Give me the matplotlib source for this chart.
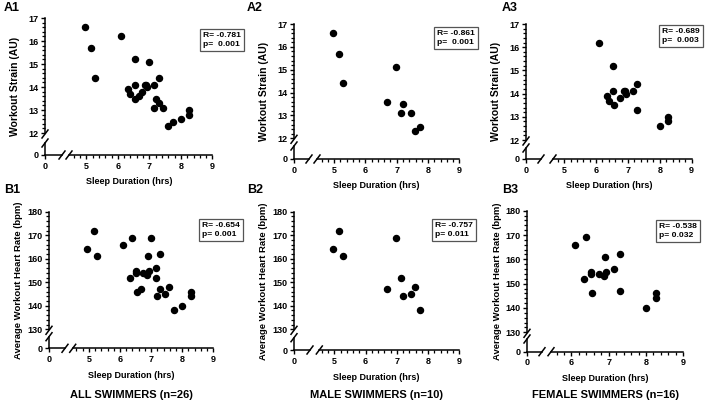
# Sleep duration vs workout strain / heart rate, swimmers
import matplotlib
matplotlib.use("Agg")
import matplotlib.pyplot as plt
from matplotlib.lines import Line2D
from matplotlib.ticker import MultipleLocator

plt.rcParams["font.family"] = ["Liberation Sans", "DejaVu Sans"]
plt.rcParams["font.weight"] = "bold"

# ---- data ----
male_sleep = [4.95, 5.15, 5.27, 6.68, 6.99, 7.15, 7.2, 7.44, 7.58, 7.74]
male_strain = [16.6, 15.7, 14.4, 13.6, 15.1, 13.1, 13.5, 13.1, 12.3, 12.5]
male_hr = [164, 172, 161, 147, 169, 152, 144, 145, 148, 138]

female_sleep = [6.1, 6.33, 6.4, 6.53, 6.53, 6.55, 6.75, 6.87, 6.9, 6.93,
                7.15, 7.3, 7.3, 8.0, 8.27, 8.27]
female_strain = [16.2, 13.9, 13.7, 15.2, 14.1, 13.5, 13.8, 14.1, 14.1, 14.0,
                 14.1, 14.4, 13.3, 12.6, 13.0, 12.8]
female_hr = [166, 152, 169, 155, 154, 146, 154, 153, 161, 155,
             156, 162, 147, 140, 146, 144]

all_sleep = male_sleep + female_sleep
all_strain = male_strain + female_strain
all_hr = male_hr + female_hr

stats_r = ["-0.781", "-0.861", "-0.689", "-0.654", "-0.757", "-0.538"]
stats_p = [" 0.001", " 0.001", " 0.003", "0.001", "0.011", "0.032"]
panel_names = ["A1", "A2", "A3", "B1", "B2", "B3"]
group_names = ["ALL SWIMMERS (n=26)", "MALE SWIMMERS (n=10)", "FEMALE SWIMMERS (n=16)"]

# ---- layout in pixels ----
W, H = 709, 404
fig = plt.figure(figsize=(W / 100, H / 100), dpi=100)


def rect(x0, y0, x1, y1):
    return [x0 / W, 1 - y1 / H, (x1 - x0) / W, (y1 - y0) / H]


def slash(x, y):
    fig.add_artist(Line2D([(x - 3) / W, (x + 3) / W], [1 - (y + 4) / H, 1 - (y - 4) / H],
                          color="black", lw=1.1))


# sx: y spine, ay: x axis line, xs: start of main x segment, x9: px of x=9
# yt/yb: px of top/bottom y value, cx/cy: end of corner segments
layout = [
    dict(sx=45, ay=155, xs=69, x9=212.5, xlo=4.45, yt=18, yb=133, cx=62, cy=143),
    dict(sx=294, ay=159, xs=317, x9=459.3, xlo=4.45, yt=24, yb=138.3, cx=309, cy=146),
    dict(sx=526, ay=159, xs=553, x9=691.7, xlo=4.65, yt=24, yb=140, cx=541, cy=148),
    dict(sx=49, ay=348.3, xs=72.7, x9=213.3, xlo=4.48, yt=211.7, yb=329.3, cx=65, cy=336.7),
    dict(sx=294, ay=350, xs=319.3, x9=459.3, xlo=4.52, yt=211.7, yb=329.3, cx=310, cy=337.7),
    dict(sx=527, ay=351.7, xs=551, x9=683.3, xlo=5.45, yt=210.7, yb=332.3, cx=542, cy=339),
]
box_pos = [(203, 40), (437, 38), (662, 36), (202, 230), (435, 230), (659, 231)]
label_pos = [(4, 8), (247, 8), (502, 8), (4, 190), (247, 190), (502, 190)]

panels = [
    (all_sleep, all_strain), (male_sleep, male_strain), (female_sleep, female_strain),
    (all_sleep, all_hr), (male_sleep, male_hr), (female_sleep, female_hr),
]

for i, (xs_data, ys_data) in enumerate(panels):
    L = layout[i]
    is_hr = i >= 3
    ylo, yhi = (130, 180) if is_hr else (12, 17)

    # main data region
    ax = fig.add_axes(rect(L["xs"], L["yt"], L["x9"], L["yb"]))
    ax.scatter(xs_data, ys_data, s=19, color="black", clip_on=False, zorder=3)
    ax.set_xlim(L["xlo"], 9)
    ax.set_ylim(ylo, yhi)
    ax.patch.set_visible(False)
    ax.spines["top"].set_visible(False)
    ax.spines["right"].set_visible(False)
    ax.spines["left"].set_position(("outward", (L["xs"] - L["sx"]) * 0.72))
    ax.spines["bottom"].set_position(("outward", (L["ay"] - L["yb"]) * 0.72))
    for s in ["left", "bottom"]:
        ax.spines[s].set_linewidth(1.1)
    ax.xaxis.set_major_locator(MultipleLocator(1))
    ax.xaxis.set_minor_locator(MultipleLocator(0.2))
    ax.yaxis.set_major_locator(MultipleLocator(10 if is_hr else 1))
    ax.yaxis.set_minor_locator(MultipleLocator(2 if is_hr else 0.2))
    ax.tick_params(which="major", length=3.2, width=1.0, labelsize=6.5, pad=1.5)
    ax.tick_params(which="minor", length=2, width=0.9)

    # corner segments with the zero ticks
    cax = fig.add_axes(rect(L["sx"], L["cy"], L["cx"], L["ay"]))
    cax.set_xlim(0, 1)
    cax.set_ylim(0, 1)
    cax.patch.set_visible(False)
    cax.spines["top"].set_visible(False)
    cax.spines["right"].set_visible(False)
    for s in ["left", "bottom"]:
        cax.spines[s].set_linewidth(1.1)
    cax.set_xticks([0])
    cax.set_yticks([0])
    cax.tick_params(length=3.2, width=1.0, labelsize=6.5, pad=1.5)

    # break marks
    slash(L["sx"], L["yb"] + 1)
    slash(L["sx"], L["cy"])
    slash(L["cx"], L["ay"])
    slash(L["xs"], L["ay"])

    # axis titles
    fig.text((L["sx"] + L["x9"]) / 2 / W, 1 - (L["ay"] + 27) / H, "Sleep Duration (hrs)",
             ha="center", va="center", fontsize=6.5, fontweight="bold")
    if is_hr:
        ylab, ysize = "Average Workout Heart Rate (bpm)", 6.8
    else:
        ylab, ysize = "Workout Strain (AU)", 7.5
    fig.text((L["sx"] - 30) / W, 1 - (L["yt"] + L["ay"]) / 2 / H, ylab, rotation=90,
             ha="center", va="center", fontsize=ysize, fontweight="bold")

    # stats box
    bx, by = box_pos[i]
    fig.text(bx / W, 1 - by / H, f"R= {stats_r[i]}\np= {stats_p[i]}", ha="left", va="center",
             fontsize=6.1, fontweight="bold", linespacing=1.3,
             bbox=dict(boxstyle="square,pad=0.4", fc="white", ec="#555555", lw=0.9))

    # panel label
    lx, ly = label_pos[i]
    fig.text(lx / W, 1 - ly / H, panel_names[i], ha="left", va="center",
             fontsize=9, fontweight="bold")

# group captions
for j, name in enumerate(group_names):
    L = layout[3 + j]
    fig.text((L["sx"] + L["x9"]) / 2 / W, 1 - 395 / H, name, ha="center", va="center",
             fontsize=8, fontweight="bold")

fig.savefig("out.png", dpi=100)
